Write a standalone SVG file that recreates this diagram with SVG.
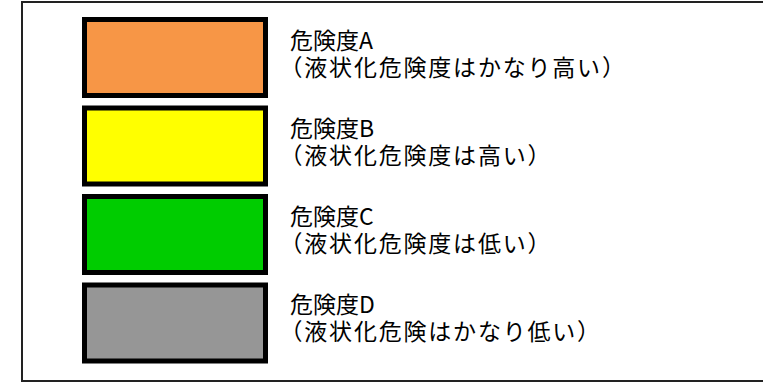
<svg xmlns="http://www.w3.org/2000/svg" width="763" height="383" viewBox="0 0 763 383">
<style>
.sw{stroke:#000;stroke-width:5}
.t{font-family:"Noto Sans CJK JP","Liberation Sans",sans-serif;font-size:23px;fill:#000}
.p{letter-spacing:1.8px}
</style>
<rect x="0" y="0" width="763" height="383" fill="#fff"/>
<rect x="22" y="2" width="760" height="379" fill="none" stroke="#222" stroke-width="2"/>
<g id="levelA">
<rect class="sw" x="84.5" y="19.5" width="181" height="76" fill="#f79646"/>
<text class="t"><tspan x="290" y="49">危険度A</tspan><tspan class="p" x="279.5" y="76">（液状化危険度はかなり高い）</tspan></text>
</g>
<g id="levelB">
<rect class="sw" x="84.5" y="108" width="181" height="76" fill="#ffff00"/>
<text class="t"><tspan x="290" y="137">危険度B</tspan><tspan class="p" x="279.5" y="164">（液状化危険度は高い）</tspan></text>
</g>
<g id="levelC">
<rect class="sw" x="84.5" y="196.5" width="181" height="76" fill="#00cc00"/>
<text class="t"><tspan x="290" y="225">危険度C</tspan><tspan class="p" x="279.5" y="252">（液状化危険度は低い）</tspan></text>
</g>
<g id="levelD">
<rect class="sw" x="84.5" y="285" width="181" height="76" fill="#969696"/>
<text class="t"><tspan x="290" y="313">危険度D</tspan><tspan class="p" x="279.5" y="340">（液状化危険はかなり低い）</tspan></text>
</g>
<g id="connectors"></g>
</svg>
